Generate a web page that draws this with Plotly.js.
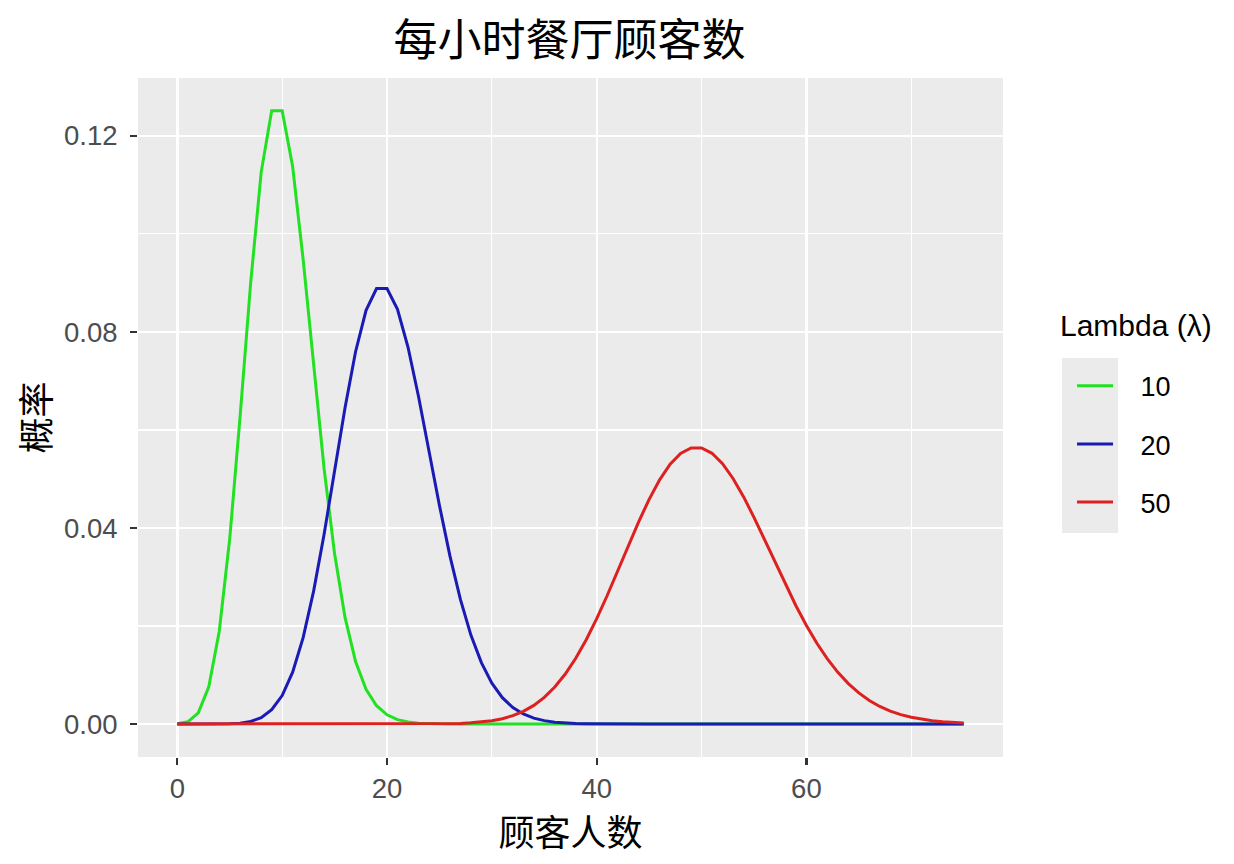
<!DOCTYPE html>
<html>
<head>
<meta charset="utf-8">
<script src="https://cdn.plot.ly/plotly-3.0.1.min.js"></script>
<style>
  html, body { margin: 0; padding: 0; background: #fff; }
  #chart { width: 1234px; height: 864px; }
</style>
</head>
<body>
<div id="chart"></div>
<script>
// 顾客人数 0..75
const customers = Array.from({length: 76}, (_, i) => i);

// lambda = 10
const probL10 = [
  0.00005, 0.00045, 0.00227, 0.00757, 0.01892, 0.03783, 0.06306, 0.09008, 0.11260, 0.12511,
  0.12511, 0.11374, 0.09478, 0.07291, 0.05208, 0.03472, 0.02170, 0.01276, 0.00709, 0.00373,
  0.00187, 0.00089, 0.00040, 0.00018, 0.00007, 0.00003, 0.00001, 0, 0, 0,
  0, 0, 0, 0, 0, 0, 0, 0, 0, 0,
  0, 0, 0, 0, 0, 0, 0, 0, 0, 0,
  0, 0, 0, 0, 0, 0, 0, 0, 0, 0,
  0, 0, 0, 0, 0, 0, 0, 0, 0, 0,
  0, 0, 0, 0, 0, 0
];

// lambda = 20
const probL20 = [
  0, 0, 0, 0.000003, 0.000014, 0.000055, 0.00018, 0.00052, 0.00131, 0.00291,
  0.00581, 0.01057, 0.01762, 0.02711, 0.03873, 0.05164, 0.06456, 0.07595, 0.08439, 0.08884,
  0.08884, 0.08461, 0.07691, 0.06688, 0.05573, 0.04459, 0.03430, 0.02541, 0.01815, 0.01252,
  0.00834, 0.00538, 0.00336, 0.00204, 0.00120, 0.00069, 0.00038, 0.00020, 0.00011, 0.00006,
  0.00003, 0.00001, 0, 0, 0, 0, 0, 0, 0, 0,
  0, 0, 0, 0, 0, 0, 0, 0, 0, 0,
  0, 0, 0, 0, 0, 0, 0, 0, 0, 0,
  0, 0, 0, 0, 0, 0
];

// lambda = 50
const probL50 = [
  0, 0, 0, 0, 0, 0, 0, 0, 0, 0,
  0, 0, 0, 0, 0, 0, 0, 0, 0, 0,
  0, 0, 0, 0.00001, 0.00002, 0.00004, 0.00007, 0.00013, 0.00024, 0.00041,
  0.00068, 0.00109, 0.00171, 0.00259, 0.00380, 0.00543, 0.00755, 0.01020, 0.01342, 0.01720,
  0.02150, 0.02622, 0.03122, 0.03630, 0.04125, 0.04583, 0.04981, 0.05299, 0.05520, 0.05633,
  0.05633, 0.05523, 0.05310, 0.05010, 0.04639, 0.04217, 0.03765, 0.03303, 0.02847, 0.02413,
  0.02011, 0.01648, 0.01329, 0.01055, 0.00824, 0.00634, 0.00480, 0.00358, 0.00264, 0.00191,
  0.00137, 0.00096, 0.00067, 0.00046, 0.00031, 0.00021
];

const seriesNames = ['10', '20', '50'];
const seriesColors = ['#22e022', '#1a1ab4', '#dd2020'];
const seriesValues = [probL10, probL20, probL50];

const xTicks = [0, 20, 40, 60];
const yTicks = [0, 0.04, 0.08, 0.12];
const yTickText = ['0.00', '0.04', '0.08', '0.12'];

const cjk = '"Noto Sans CJK SC", "Noto Sans", sans-serif';
const latin = '"Liberation Sans", Arial, sans-serif';
const pad = '\u00a0\u00a0\u00a0';

const traces = seriesValues.map((vals, i) => ({
  type: 'scatter', mode: 'lines',
  x: customers, y: vals,
  name: pad + seriesNames[i],
  legendgroup: 'g' + i,
  line: { color: seriesColors[i], width: 3 }
}));

const layout = {
  width: 1234, height: 864,
  margin: { l: 138, r: 231, t: 78, b: 107 },
  paper_bgcolor: '#ffffff',
  plot_bgcolor: '#ebebeb',
  title: {
    text: '每小时餐厅顾客数',
    font: { family: cjk, size: 44, color: '#000' },
    x: 0.4615, xanchor: 'center', y: 0.953, yanchor: 'middle'
  },
  xaxis: {
    range: [-3.75, 78.75],
    tickvals: xTicks,
    ticks: 'outside', ticklen: 7, tickwidth: 2.2, tickcolor: '#333',
    tickfont: { family: latin, size: 27.5, color: '#4d4d4d' },
    showgrid: true, gridcolor: '#ffffff', gridwidth: 2.4,
    minor: { dtick: 10, tick0: 0, showgrid: true, gridcolor: '#ffffff', gridwidth: 1.2, ticks: '' },
    zeroline: false, showline: false,
    title: { text: '顾客人数', font: { family: cjk, size: 36, color: '#000' }, standoff: 0 }
  },
  yaxis: {
    range: [-0.00673, 0.1318],
    tickvals: yTicks, ticktext: yTickText,
    ticks: 'outside', ticklen: 7, tickwidth: 2.2, tickcolor: '#333',
    ticklabelstandoff: 7,
    tickfont: { family: latin, size: 27.5, color: '#4d4d4d' },
    showgrid: true, gridcolor: '#ffffff', gridwidth: 2.4,
    minor: { dtick: 0.02, tick0: 0, showgrid: true, gridcolor: '#ffffff', gridwidth: 1.2, ticks: '' },
    zeroline: false, showline: false,
    title: { text: '概率', font: { family: cjk, size: 36, color: '#000' }, standoff: 2 }
  },
  legend: {
    x: 1.0798, xanchor: 'left', y: 0.582, yanchor: 'top',
    bgcolor: 'rgba(0,0,0,0)',
    font: { family: latin, size: 27, color: '#000' },
    tracegroupgap: 20, itemwidth: 36
  },
  annotations: [{
    text: 'Lambda (λ)', xref: 'paper', yref: 'paper',
    x: 1.064, y: 0.636, xanchor: 'left', yanchor: 'middle', showarrow: false,
    font: { family: latin, size: 30, color: '#000' }
  }],
  shapes: [{
    type: 'rect', xref: 'paper', yref: 'paper', layer: 'below',
    x0: 1.0682, x1: 1.1329, y0: 0.33, y1: 0.5876,
    fillcolor: '#ebebeb', line: { width: 0 }
  }]
};

Plotly.newPlot('chart', traces, layout, { displayModeBar: false, staticPlot: true });
</script>
</body>
</html>
